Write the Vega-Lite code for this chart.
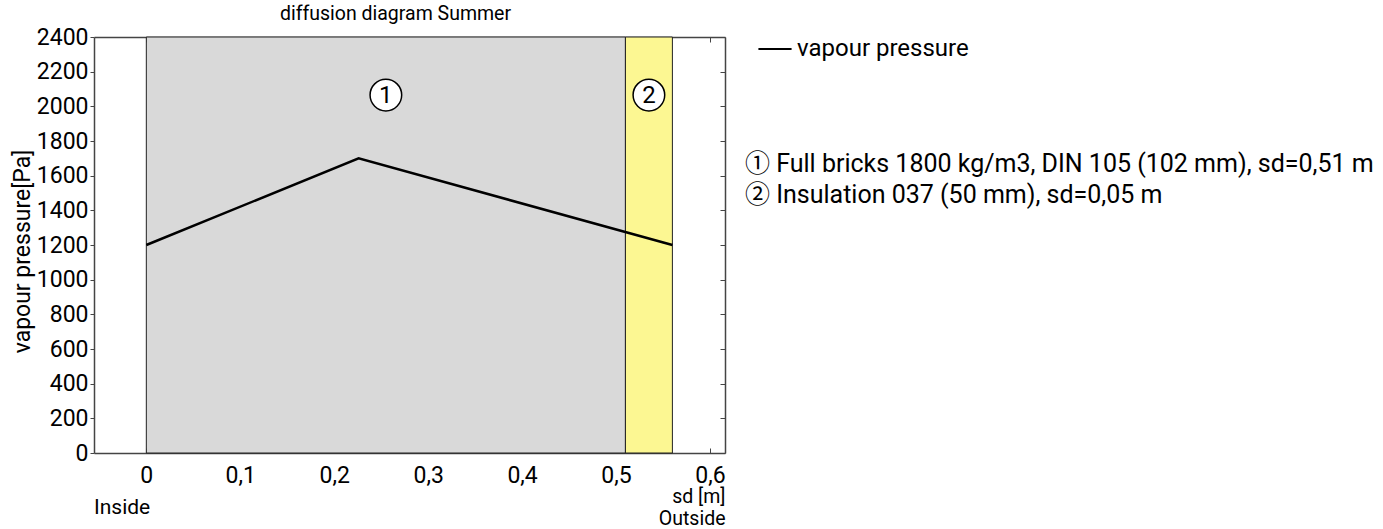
{
  "$schema": "https://vega.github.io/schema/vega-lite/v6.json",
  "width": 631,
  "height": 416,
  "autosize": {"type": "none"},
  "padding": {"left": 94, "top": 37, "right": 658, "bottom": 76},
  "background": "white",
  "config": {
    "font": "Roboto",
    "view": {"stroke": null},
    "axis": {
      "labelFont": "Roboto", "labelFontSize": 23, "labelColor": "black", "labelOverlap": false,
      "titleFont": "Roboto", "titleFontSize": 20, "titleFontWeight": "normal", "titleColor": "black",
      "domainColor": "#444444", "tickColor": "#444444", "grid": false, "domainWidth": 1.5
    },
    "legend": {"labelFont": "Roboto, 'Noto Sans CJK JP'", "labelFontSize": 24, "labelColor": "black", "padding": 0, "labelLimit": 0}
  },
  "title": {"text": "diffusion diagram Summer", "font": "Roboto", "fontSize": 19.5, "fontWeight": "normal", "color": "black", "offset": 2, "dx": -14},
  "datasets": {
    "layers": [
      {"layer": "① Full bricks 1800 kg/m3, DIN 105 (102 mm), sd=0,51 m", "num": "1", "start": 0, "end": 0.51, "mid": 0.255},
      {"layer": "② Insulation 037 (50 mm), sd=0,05 m", "num": "2", "start": 0.51, "end": 0.56, "mid": 0.535}
    ],
    "pressure": [
      {"sd": 0, "p": 1200, "series": "vapour pressure"},
      {"sd": 0.226, "p": 1700, "series": "vapour pressure"},
      {"sd": 0.56, "p": 1200, "series": "vapour pressure"}
    ]
  },
  "layer": [
    {
      "layer": [
        {
          "data": {"name": "layers"},
          "mark": {"type": "rect", "stroke": "#222222", "strokeWidth": 1},
          "encoding": {
            "x": {"field": "start", "type": "quantitative", "scale": {"domain": [-0.0557, 0.616], "nice": false, "zero": false}, "axis": null},
            "x2": {"field": "end"},
            "y": {"datum": 0, "type": "quantitative", "scale": {"domain": [0, 2400], "nice": false}, "axis": null},
            "y2": {"datum": 2400},
            "fill": {"field": "layer", "type": "nominal",
              "scale": {"domain": ["① Full bricks 1800 kg/m3, DIN 105 (102 mm), sd=0,51 m", "② Insulation 037 (50 mm), sd=0,05 m"], "range": ["#d9d9d9", "#fcf792"]},
              "legend": {"orient": "none", "legendX": 626, "legendY": 114, "title": null, "symbolSize": 0, "symbolStrokeWidth": 0, "symbolOpacity": 0, "labelOffset": 0, "labelFontSize": 25, "rowPadding": 5}}
          }
        },
        {
          "data": {"name": "pressure"},
          "mark": {"type": "line", "strokeWidth": 2.5},
          "encoding": {
            "x": {"field": "sd", "type": "quantitative", "scale": {"domain": [-0.0557, 0.616], "nice": false, "zero": false}, "axis": null},
            "y": {"field": "p", "type": "quantitative", "scale": {"domain": [0, 2400], "nice": false}, "axis": null},
            "stroke": {"field": "series", "type": "nominal", "scale": {"range": ["black"]},
              "legend": {"orient": "none", "legendX": 663, "legendY": -6, "title": null, "symbolType": "stroke", "symbolSize": 1100, "symbolStrokeWidth": 2, "labelOffset": 4}}
          }
        },
        {
          "data": {"name": "layers"},
          "mark": {"type": "point", "shape": "circle", "filled": true, "fill": "white", "stroke": "black", "strokeWidth": 1.5, "size": 1000, "opacity": 1},
          "encoding": {
            "x": {"field": "mid", "type": "quantitative", "axis": null},
            "y": {"datum": 2065, "type": "quantitative", "axis": null}
          }
        },
        {
          "data": {"name": "layers"},
          "mark": {"type": "text", "fontSize": 24, "font": "Roboto", "color": "black", "align": "center", "baseline": "middle", "dy": 1},
          "encoding": {
            "x": {"field": "mid", "type": "quantitative", "axis": null},
            "y": {"datum": 2065, "type": "quantitative", "axis": null},
            "text": {"field": "num"}
          }
        },
        {
          "data": {"values": [{"label": "Inside"}]},
          "mark": {"type": "text", "fontSize": 21, "font": "Roboto", "color": "black", "align": "left", "baseline": "middle", "clip": false},
          "encoding": {
            "x": {"datum": -0.0557, "type": "quantitative", "axis": null},
            "y": {"datum": -315, "type": "quantitative", "axis": null},
            "text": {"field": "label"}
          }
        }
      ]
    },
    {
      "data": {"name": "layers"},
      "mark": {"type": "rect", "opacity": 0},
      "encoding": {
        "x": {"field": "start", "type": "quantitative", "scale": {"domain": [-0.0557, 0.616], "nice": false, "zero": false},
          "axis": {"orient": "bottom", "values": [0, 0.1, 0.2, 0.3, 0.4, 0.5, 0.6], "tickSize": -5, "labelPadding": 16,
            "labelExpr": "replace(format(datum.value, '.1~f'), '.', ',')",
            "title": ["sd [m]", "Outside"], "titleFontSize": 19.5, "titleAnchor": "end", "titleAlign": "right", "titlePadding": 0, "titleLineHeight": 22}},
        "x2": {"field": "end"},
        "y": {"datum": 0, "type": "quantitative", "scale": {"domain": [0, 2400], "nice": false},
          "axis": {"orient": "left", "values": [0, 200, 400, 600, 800, 1000, 1200, 1400, 1600, 1800, 2000, 2200, 2400], "format": "d", "tickSize": 4, "labelPadding": 2, "labelOverlap": false,
            "title": "vapour pressure[Pa]", "titleFontSize": 23, "titleX": -72, "titleY": 214, "titleBaseline": "middle"}},
        "y2": {"datum": 2400}
      }
    },
    {
      "data": {"name": "layers"},
      "mark": {"type": "rect", "opacity": 0},
      "encoding": {
        "x": {"field": "start", "type": "quantitative", "scale": {"domain": [-0.0557, 0.616], "nice": false, "zero": false},
          "axis": {"orient": "top", "values": [0, 0.1, 0.2, 0.3, 0.4, 0.5, 0.6], "tickSize": -5, "labels": false, "title": null}},
        "x2": {"field": "end"},
        "y": {"datum": 0, "type": "quantitative", "scale": {"domain": [0, 2400], "nice": false},
          "axis": {"orient": "right", "values": [0, 200, 400, 600, 800, 1000, 1200, 1400, 1600, 1800, 2000, 2200, 2400], "tickSize": -5, "labels": false, "title": null}},
        "y2": {"datum": 2400}
      }
    }
  ],
  "resolve": {"scale": {"x": "independent", "y": "independent"}}
}
